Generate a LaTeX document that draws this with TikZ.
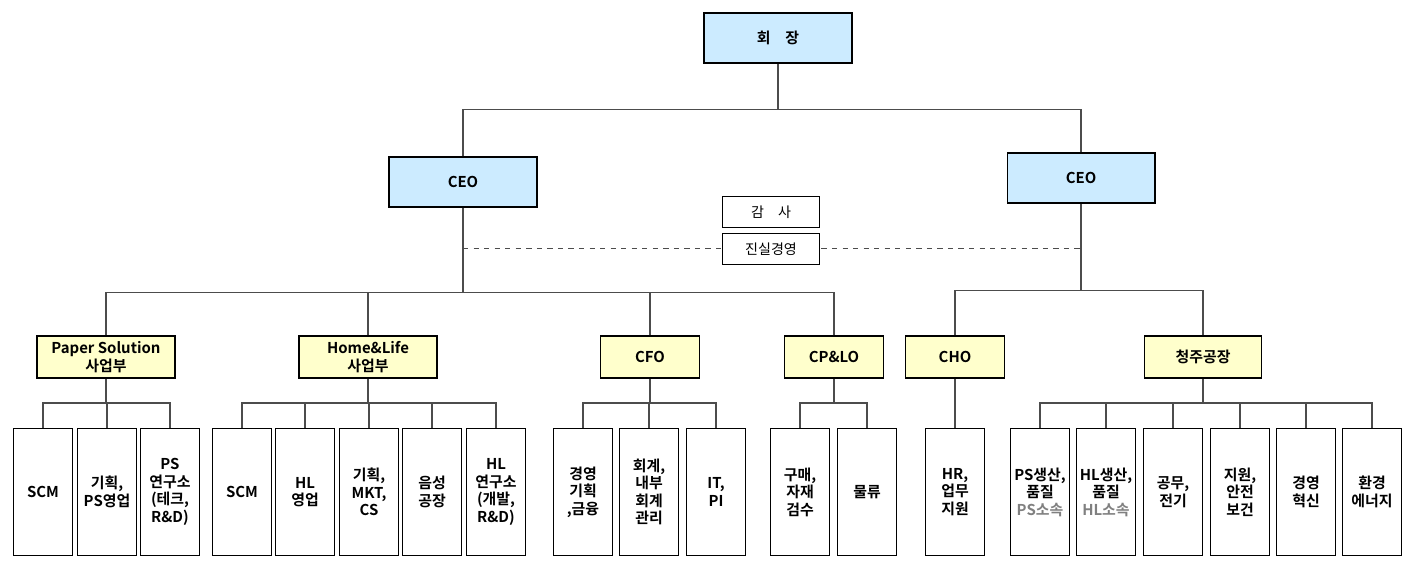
\documentclass[tikz,border=0pt]{standalone}
\usepackage{fontspec}
\setmainfont{Noto Sans CJK KR}[BoldFont={* Bold}]
\begin{document}
\definecolor{ceoblue}{HTML}{CCEBFF}
\definecolor{divyellow}{HTML}{FFFFCC}
\tikzset{
	box/.style={draw=black, line width=0.6pt, align=center, font=\fontsize{8.5}{10}\selectfont\bfseries, inner sep=0pt},
	top/.style={box, fill=ceoblue, minimum width=2.96cm, minimum height=1cm},
	div/.style={box, fill=divyellow, minimum height=0.84cm},
	leaf/.style={box, fill=white, minimum width=1.18cm, minimum height=2.54cm},
	audit/.style={box, fill=white, minimum width=1.94cm, minimum height=0.62cm, font=\fontsize{8}{10}\selectfont},
	line/.style={black!70, line width=0.6pt}
}
\begin{tikzpicture}[x=0.02cm, y=-0.02cm]
\useasboundingbox (0,0) rectangle (1412,571);
\pgfmathsetmacro{\leafy}{492}
\pgfmathsetmacro{\divy}{357}

\node[top] (chair) at (778,38) {회\quad 장};
\node[top] (ceoL) at (463,182) {CEO};
\node[top] (ceoR) at (1081,178) {CEO};

% audit
\coordinate (dashL) at (463,248);
\coordinate (dashR) at (1080,248);
\draw[line, dashed, line width=0.4pt] (dashL) -- (dashR);
\node[audit] (audit) at (771,212) {감\quad 사};
\node[audit] (ethics) at (771,249) {진실경영};

\draw[line] (ceoL.north) -- ++(0,-47) -| (chair.south);
\draw[line] (ceoR.north) -- ++(0,-43) -| (chair.south);

% divisions
\node[div, minimum width=2.76cm] (ps) at (106,\divy) {Paper Solution\\사업부};
\node[div, minimum width=2.76cm] (hl) at (368,\divy) {Home\&Life\\사업부};
\node[div, minimum width=1.98cm] (cfo) at (650,\divy) {CFO};
\node[div, minimum width=1.98cm] (cplo) at (834,\divy) {CP\&LO};
\node[div, minimum width=1.98cm] (cho) at (955,\divy) {CHO};
\node[div, minimum width=2.34cm] (plant) at (1203,\divy) {청주공장};
\foreach \d in {ps, hl, cfo, cplo}
	\draw[line] (\d.north) -- ++(0,-43) -| (ceoL.south);
\foreach \d in {cho, plant}
	\draw[line] (\d.north) -- ++(0,-45) -| (ceoR.south);

% leaves
\foreach \x/\n/\t/\p in {
	43/ps1/SCM/ps, 107/ps2/{기획,\\PS영업}/ps, 170/ps3/{PS\\연구소\\(테크,\\R\&D)}/ps,
	242/hl1/SCM/hl, 305/hl2/{HL\\영업}/hl, 369/hl3/{기획,\\MKT,\\CS}/hl, 432/hl4/{음성\\공장}/hl, 496/hl5/{HL\\연구소\\(개발,\\R\&D)}/hl,
	583/cf1/{경영\\기획\\,금융}/cfo, 649/cf2/{회계,\\내부\\회계\\관리}/cfo, 716/cf3/{IT,\\PI}/cfo,
	800/cp1/{구매,\\자재\\검수}/cplo, 867/cp2/물류/cplo,
	955/ch1/{HR,\\업무\\지원}/cho,
	1040/pl1/{PS생산,\\품질\\\textcolor{gray}{PS소속}}/plant, 1106/pl2/{HL생산,\\품질\\\textcolor{gray}{HL소속}}/plant,
	1173/pl3/{공무,\\전기}/plant, 1240/pl4/{지원,\\안전\\보건}/plant, 1306/pl5/{경영\\혁신}/plant, 1372/pl6/{환경\\에너지}/plant}{
	\node[leaf] (\n) at (\x,\leafy) {\t};
	\draw[line] (\n.north) -- ++(0,-25) -| (\p.south);
}
\end{tikzpicture}
\end{document}
